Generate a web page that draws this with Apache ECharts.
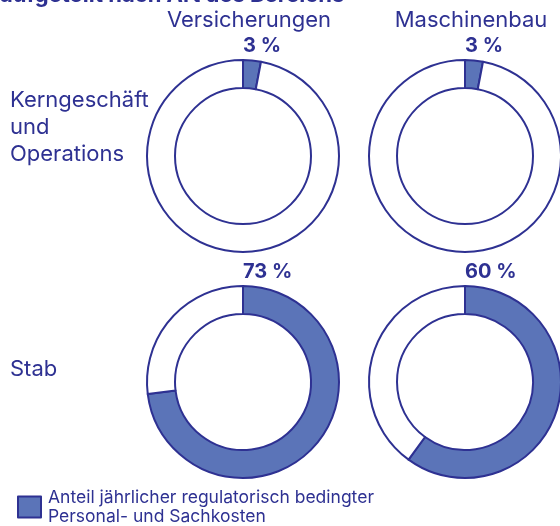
<!DOCTYPE html>
<html>
<head>
<meta charset="utf-8">
<script src="https://cdn.jsdelivr.net/npm/echarts@6/dist/echarts.min.js"></script>
<style>
html,body{margin:0;padding:0;background:#fff;}
#chart{width:560px;height:526px;}
</style>
</head>
<body>
<div id="chart"></div>
<script>
const titleText = 'aufgeteilt nach Art des Bereichs';
const columns = ['Versicherungen', 'Maschinenbau'];
const rows = ['Kerngeschäft\nund\nOperations', 'Stab'];
// share (%) per row x column
const sharesKern = [3, 3];
const sharesStab = [73, 60];
const legendName = 'Anteil jährlicher regulatorisch bedingter\nPersonal- und Sachkosten';

const FONT = 'Inter, "Noto Sans", sans-serif';
const NAVY = '#2e3192';
const FILL = '#5b74b8';

const colX = [243, 465];
const rowY = [156, 382];
const rOuter = 96, rInner = 68;
const shares = [sharesKern, sharesStab];

const series = [];
const graphics = [];

graphics.push({
  type: 'text', x: 0, y: -5,
  style: { text: titleText, fill: NAVY, font: 'bold 22px ' + FONT, textAlign: 'left', textVerticalAlign: 'middle' }
});
columns.forEach((c, i) => {
  graphics.push({
    type: 'text', x: colX[i] + 6, y: 20,
    style: { text: c, fill: NAVY, font: '22px ' + FONT, textAlign: 'center', textVerticalAlign: 'middle' }
  });
});
rows.forEach((r, j) => {
  graphics.push({
    type: 'text', x: 10, y: (j === 0 ? rowY[j] - 28.5 : rowY[j] - 12.5),
    style: { text: r, fill: NAVY, font: '22px ' + FONT, lineHeight: 27, textAlign: 'left', textVerticalAlign: 'middle' }
  });
});

shares.forEach((rowVals, j) => {
  rowVals.forEach((v, i) => {
    series.push({
      type: 'pie',
      center: [colX[i], rowY[j]],
      radius: [rInner, rOuter],
      startAngle: 90,
      clockwise: true,
      silent: true,
      animation: false,
      label: { show: false },
      labelLine: { show: false },
      itemStyle: { borderColor: NAVY, borderWidth: 2 },
      emphasis: { disabled: true },
      data: [
        { name: legendName, value: v, itemStyle: { color: FILL } },
        { name: 'Rest', value: 100 - v, itemStyle: { color: '#ffffff' } }
      ]
    });
    graphics.push({
      type: 'text', x: colX[i], y: rowY[j] - rOuter - 14.5,
      style: { text: v + ' %', fill: NAVY, font: 'bold 20px ' + FONT, textAlign: 'left', textVerticalAlign: 'middle' }
    });
  });
});

const chart = echarts.init(document.getElementById('chart'), null, { renderer: 'canvas' });
chart.setOption({
  backgroundColor: '#ffffff',
  animation: false,
  legend: {
    data: [legendName],
    left: 17, top: 488,
    padding: 0,
    itemWidth: 23, itemHeight: 21,
    itemGap: 0,
    icon: 'rect',
    selectedMode: false,
    itemStyle: { color: FILL, borderColor: NAVY, borderWidth: 2 },
    textStyle: { color: NAVY, fontSize: 17.5, lineHeight: 19, fontFamily: FONT, padding: [0, 0, 0, 2] }
  },
  series: series,
  graphic: graphics
});
</script>
</body>
</html>
